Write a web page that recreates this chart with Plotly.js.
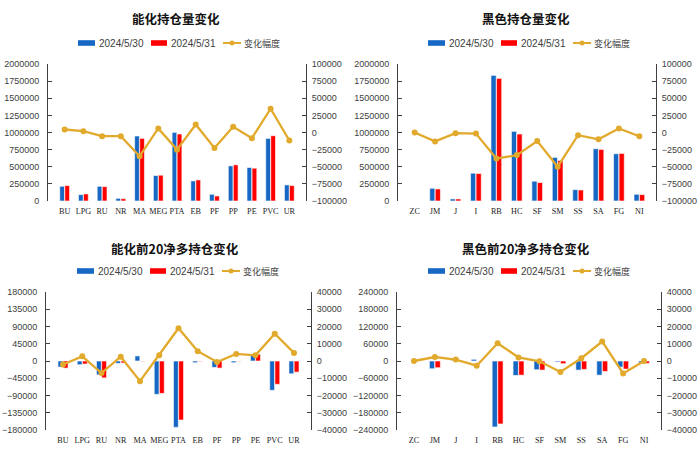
<!DOCTYPE html>
<html>
<head>
<meta charset="utf-8">
<script src="https://cdn.plot.ly/plotly-3.0.1.min.js"></script>
<style>html,body{margin:0;padding:0;background:#fff;}#chart{width:700px;height:456px;}</style>
</head>
<body>
<div id="chart"></div>
<script>
// ---------- data ----------
const dateA = '2024/5/30';
const dateB = '2024/5/31';
const chgName = '变化幅度';

const titles = ['能化持仓量变化', '黑色持仓量变化', '能化前20净多持仓变化', '黑色前20净多持仓变化'];

const catsEnergy = ['BU', 'LPG', 'RU', 'NR', 'MA', 'MEG', 'PTA', 'EB', 'PF', 'PP', 'PE', 'PVC', 'UR'];
const catsBlack = ['ZC', 'JM', 'J', 'I', 'RB', 'HC', 'SF', 'SM', 'SS', 'SA', 'FG', 'NI'];

// 能化持仓量
const oiEnergyA = [215000, 93000, 215000, 39000, 949000, 372000, 1002000, 293000, 98000, 513000, 489000, 914000, 235000];
const oiEnergyB = [225000, 103000, 210000, 34000, 914000, 377000, 978000, 308000, 73000, 528000, 479000, 953000, 225000];
const oiEnergyChg = [4400, 2000, -5400, -5400, -34700, 5900, -25000, 11700, -22500, 8300, -8300, 34700, -11700];

// 黑色持仓量
const oiBlackA = [0, 186000, 30000, 406000, 1834000, 1017000, 289000, 636000, 166000, 763000, 690000, 98000];
const oiBlackB = [0, 176000, 30000, 401000, 1790000, 978000, 269000, 592000, 161000, 753000, 694000, 93000];
const oiBlackChg = [0, -13000, -1000, -1500, -38000, -33000, -12500, -50000, -4000, -10000, 6000, -5500];

// 能化前20净多
const netEnergyA = [-15800, -9700, -36000, -6200, 13200, -87000, -173000, -4400, -16700, -4400, 15800, -76500, -33400];
const netEnergyB = [-18500, -7900, -44000, -5300, -1000, -84500, -154000, -1000, -18500, -1000, 17600, -60700, -29000];
const netEnergyChg = [-2000, 2700, -7000, 2500, -11700, 3300, 19000, 5700, -600, 4100, 3300, 15800, 4700];

// 黑色前20净多
const netBlackA = [0, -27000, 2000, 5800, -229500, -50300, -30400, -3500, -31600, -49200, -21000, -7000];
const netBlackB = [0, -23400, 1500, -1000, -219000, -49200, -31600, -9400, -29300, -36300, -28100, -8200];
const netBlackChg = [0, 2300, 800, -2700, 10300, 2100, -200, -6400, 1600, 11300, -7200, 0];

// ---------- style ----------
const W = 700, H = 456;
const BLUE = '#1668C4', RED = '#FF0000', GOLD = '#E2AA2C';
const AXC = '#404040', TXT = '#404040';
const px = x => x / W;
const py = y => 1 - y / H;

const panels = [
  {cats: catsEnergy, a: oiEnergyA, b: oiEnergyB, c: oiEnergyChg, x0: 48, x1: 306, y0: 64, y1: 201,
   lr: [0, 2000000], ld: 250000, rr: [-100000, 100000], rd: 25000, tx: 176, ty: 19, lgx: 78, lgy: 43},
  {cats: catsBlack, a: oiBlackA, b: oiBlackB, c: oiBlackChg, x0: 398, x1: 656, y0: 64, y1: 201,
   lr: [0, 2000000], ld: 250000, rr: [-100000, 100000], rd: 25000, tx: 526, ty: 19, lgx: 428, lgy: 43},
  {cats: catsEnergy, a: netEnergyA, b: netEnergyB, c: netEnergyChg, x0: 46, x1: 311, y0: 292, y1: 430,
   lr: [-180000, 180000], ld: 45000, rr: [-40000, 40000], rd: 10000, tx: 175, ty: 248, lgx: 77, lgy: 271},
  {cats: catsBlack, a: netBlackA, b: netBlackB, c: netBlackChg, x0: 397, x1: 661, y0: 292, y1: 430,
   lr: [-240000, 240000], ld: 60000, rr: [-40000, 40000], rd: 10000, tx: 526, ty: 248, lgx: 428, lgy: 271}
];

const data = [];
const layout = {
  width: W, height: H,
  margin: {l: 0, r: 0, t: 0, b: 0},
  paper_bgcolor: '#fff', plot_bgcolor: 'rgba(0,0,0,0)',
  showlegend: false,
  barmode: 'group', bargap: 0.46, bargroupgap: 0.06,
  font: {family: 'Liberation Sans, Arial, sans-serif', color: TXT, size: 9},
  shapes: [], annotations: []
};

panels.forEach((p, i) => {
  const n = i + 1;
  const xs = n === 1 ? '' : String(n);
  const yl = String(2 * n - 1) === '1' ? '' : String(2 * n - 1);
  const yr = String(2 * n);
  const xa = 'x' + xs, ya = 'y' + yl, yb = 'y' + yr;

  data.push({type: 'bar', name: dateA, x: p.cats, y: p.a, xaxis: xa, yaxis: ya,
    marker: {color: BLUE, line: {color: '#ffffff', width: 0.6}}, hoverinfo: 'y'});
  data.push({type: 'bar', name: dateB, x: p.cats, y: p.b, xaxis: xa, yaxis: ya,
    marker: {color: RED, line: {color: '#ffffff', width: 0.6}}, hoverinfo: 'y'});
  data.push({type: 'scatter', mode: 'lines+markers', name: chgName, x: p.cats, y: p.c, xaxis: xa, yaxis: yb,
    line: {color: GOLD, width: 2.3}, marker: {color: GOLD, size: 6}, hoverinfo: 'y'});

  layout['xaxis' + xs] = {
    domain: [px(p.x0), px(p.x1)], anchor: ya, type: 'category',
    showline: false, showgrid: false, zeroline: false, ticks: '', tickangle: 0,
    ticklabelstandoff: 4, automargin: false, fixedrange: true,
    tickfont: {family: 'Liberation Serif, Times New Roman, serif', size: 8.2, color: '#222'}
  };
  layout['yaxis' + yl] = {
    domain: [py(p.y1), py(p.y0)], anchor: xa, range: p.lr, dtick: p.ld, tick0: 0,
    tickformat: 'd', showline: true, linecolor: AXC, linewidth: 1,
    ticks: 'inside', ticklen: 4, tickcolor: AXC, showgrid: false, zeroline: false,
    ticklabelstandoff: 6, automargin: false, fixedrange: true,
    tickfont: {family: 'Liberation Sans, Arial, sans-serif', size: 9, color: TXT}
  };
  layout['yaxis' + yr] = {
    overlaying: ya, side: 'right', anchor: xa, range: p.rr, dtick: p.rd, tick0: 0,
    tickformat: 'd', showline: true, linecolor: AXC, linewidth: 1,
    ticks: 'inside', ticklen: 4, tickcolor: AXC, showgrid: false, zeroline: false,
    ticklabelstandoff: 3, automargin: false, fixedrange: true,
    tickfont: {family: 'Liberation Sans, Arial, sans-serif', size: 9, color: TXT}
  };

  // title
  layout.annotations.push({
    text: '<b>' + titles[i] + '</b>', xref: 'paper', yref: 'paper', x: px(p.tx), y: py(p.ty),
    xanchor: 'center', yanchor: 'middle', showarrow: false,
    font: {family: 'Noto Sans CJK SC, sans-serif', size: 12.5, color: '#111'}
  });

  // legend (drawn manually)
  const lx = p.lgx, ly = p.lgy;
  layout.shapes.push({type: 'rect', xref: 'paper', yref: 'paper',
    x0: px(lx), x1: px(lx + 17), y0: py(ly + 2.8), y1: py(ly - 2.8), fillcolor: BLUE, line: {width: 0}});
  layout.shapes.push({type: 'rect', xref: 'paper', yref: 'paper',
    x0: px(lx + 73), x1: px(lx + 89), y0: py(ly + 2.8), y1: py(ly - 2.8), fillcolor: RED, line: {width: 0}});
  layout.shapes.push({type: 'line', xref: 'paper', yref: 'paper',
    x0: px(lx + 145), x1: px(lx + 163), y0: py(ly), y1: py(ly), line: {color: GOLD, width: 2}});
  layout.shapes.push({type: 'circle', xref: 'paper', yref: 'paper',
    x0: px(lx + 151.5), x1: px(lx + 156.5), y0: py(ly + 2.5), y1: py(ly - 2.5), fillcolor: GOLD, line: {width: 0}});
  [[dateA, lx + 19, 'Liberation Sans, Arial, sans-serif', 10],
   [dateB, lx + 91, 'Liberation Sans, Arial, sans-serif', 10],
   [chgName, lx + 164, 'Noto Sans CJK SC, sans-serif', 9]].forEach(t => {
    layout.annotations.push({text: t[0], xref: 'paper', yref: 'paper', x: px(t[1]), y: py(ly),
      xanchor: 'left', yanchor: 'middle', showarrow: false,
      font: {family: t[2], size: t[3], color: TXT}});
  });
});

Plotly.newPlot('chart', data, layout, {displayModeBar: false, staticPlot: true});
</script>
</body>
</html>
